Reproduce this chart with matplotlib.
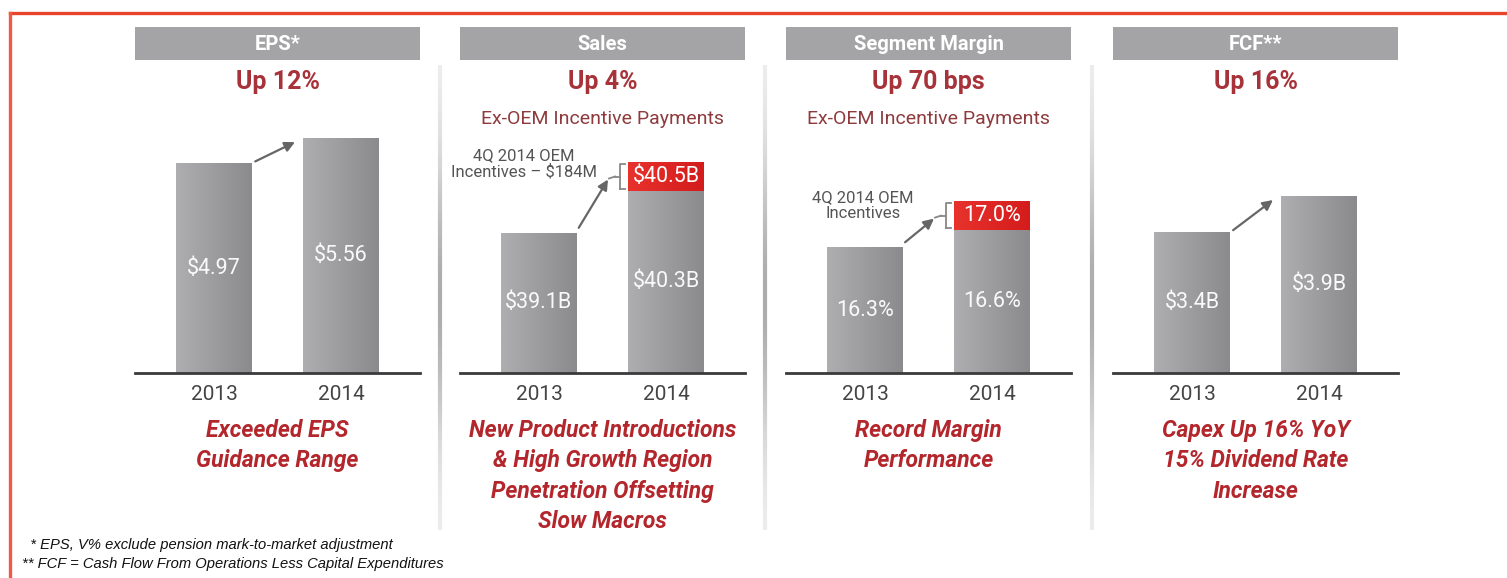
import numpy as np
import matplotlib
matplotlib.use('Agg')
import matplotlib.pyplot as plt
from matplotlib.patches import Rectangle
from matplotlib.lines import Line2D
from matplotlib.collections import LineCollection
from matplotlib.colors import LinearSegmentedColormap

# ---------------- data ----------------
years = ['2013', '2014']
panel_titles = ['EPS*', 'Sales', 'Segment Margin', 'FCF**']
panel_growth = ['Up 12%', 'Up 4%', 'Up 70 bps', 'Up 16%']
panel_subtitles = ['', 'Ex-OEM Incentive Payments', 'Ex-OEM Incentive Payments', '']
eps_values = [4.97, 5.56]
sales_values = [39.1, 40.3]
margin_values = [16.3, 16.6]
fcf_values = [3.4, 3.9]
value_labels = [['$4.97', '$5.56'], ['$39.1B', '$40.3B'], ['16.3%', '16.6%'], ['$3.4B', '$3.9B']]
oem_labels = [None, '$40.5B', '17.0%', None]
oem_notes = [None, '4Q 2014 OEM\nIncentives \u2013 $184M', '4Q 2014 OEM\nIncentives', None]
captions = ['Exceeded EPS\nGuidance Range',
            'New Product Introductions\n& High Growth Region\nPenetration Offsetting\nSlow Macros',
            'Record Margin\nPerformance',
            'Capex Up 16% YoY\n15% Dividend Rate\nIncrease']
footnotes = ['  * EPS, V% exclude pension mark-to-market adjustment',
             '** FCF = Cash Flow From Operations Less Capital Expenditures']
series = [eps_values, sales_values, margin_values, fcf_values]

# ---------------- layout / style ----------------
W, H, DPI = 1507, 578, 100
fig = plt.figure(figsize=(W / DPI, H / DPI), dpi=DPI)
fig.patch.set_facecolor('white')

def fx(x):
    return x / W

def fy(y):
    return 1 - y / H

FONT = 'Roboto'
RED_TXT = '#a8323a'
CAP_RED = '#b3262c'
BOX_RED = '#e0231f'
panel_left = [135, 460, 786, 1113]
panel_w = 285
base_y = 373
ax_top = 100
y_low = [0.0, 35.1, 14.08, 1.442]
px_per_unit = [42.25, 35.0, 56.7, 72.0]
bar_off = 79
bar_step = 127
bar_w_px = 76
note_dx = [0, 96, 83, 0]
note_dy = [0, 13, 10, 0]

gray_cmap = LinearSegmentedColormap.from_list('g', ['#aeaeb0', '#8b8b8d'])
red_cmap = LinearSegmentedColormap.from_list('r', ['#e8322c', '#d41c1c'])
grad = np.linspace(0, 1, 64).reshape(1, -1)

# red frame
fig.add_artist(Line2D([fx(10), 1.0], [fy(13), fy(13)], color='#e8432c', lw=2.4,
                      transform=fig.transFigure))
fig.add_artist(Line2D([fx(10), fx(10)], [fy(13), 0.0], color='#ee5a44', lw=2.4,
                      transform=fig.transFigure))

# separators (vertical gradient lines)
for sx in [440, 765, 1092]:
    ys = np.linspace(65, 530, 120)
    segs = [[(fx(sx), fy(ys[i])), (fx(sx), fy(ys[i + 1]))] for i in range(len(ys) - 1)]
    t = np.linspace(0, 1, len(segs))
    shade = np.exp(-((t - 0.5) / 0.3) ** 2)
    cols = [(0.55, 0.55, 0.56, 0.12 + 0.6 * s) for s in shade]
    fig.add_artist(LineCollection(segs, colors=cols, linewidths=3.0,
                                  transform=fig.transFigure))

for i in range(4):
    L = panel_left[i]
    cx = L + panel_w / 2
    # header bar
    fig.add_artist(Rectangle((fx(L), fy(60)), fx(panel_w), 33 / H, facecolor='#a4a4a6',
                             edgecolor='none', transform=fig.transFigure))
    fig.text(fx(cx), fy(44), panel_titles[i], ha='center', va='center', color='white',
             fontsize=14.5, fontweight='bold', family=FONT)
    fig.text(fx(cx), fy(82), panel_growth[i], ha='center', va='center', color=RED_TXT,
             fontsize=18, fontweight='bold', family=FONT)
    if panel_subtitles[i]:
        fig.text(fx(cx), fy(119), panel_subtitles[i], ha='center', va='center',
                 color='#8e3b3e', fontsize=14, family=FONT)
    fig.text(fx(cx), fy(419), captions[i], ha='center', va='top', color=CAP_RED,
             fontsize=16.5, fontweight='bold', fontstyle='italic', family=FONT,
             linespacing=1.41)

    # axes
    ax = fig.add_axes([fx(L), fy(base_y), fx(panel_w), (base_y - ax_top) / H])
    ax.set_facecolor('none')
    vals = series[i]
    lo = y_low[i]
    hi = lo + (base_y - ax_top) / px_per_unit[i]
    bw = bar_w_px / bar_step
    bars = ax.bar([0, 1], vals, width=bw, color='#9c9c9e', zorder=2)
    for b in bars:
        x0 = b.get_x()
        im = ax.imshow(grad, extent=[x0, x0 + b.get_width(), lo, b.get_height()],
                       aspect='auto', cmap=gray_cmap, zorder=3)
        im.set_clip_path(b)
    ax.set_xlim(-bar_off / bar_step, (panel_w - bar_off) / bar_step)
    ax.set_ylim(lo, hi)
    for s in ['top', 'right', 'left']:
        ax.spines[s].set_visible(False)
    ax.spines['bottom'].set_color('#3a3a3a')
    ax.spines['bottom'].set_linewidth(2.0)
    ax.spines['bottom'].set_zorder(5)
    ax.set_yticks([])
    ax.set_xticks([0, 1])
    ax.set_xticklabels(years, family=FONT, fontsize=15, color='#444444')
    ax.tick_params(axis='x', length=0, pad=9)

    # value labels at mid-height of bars
    for j, v in enumerate(vals):
        ax.text(j, (lo + v) / 2, value_labels[i][j], ha='center', va='center',
                color='white', fontsize=15.5, family=FONT, zorder=6, alpha=0.95)

    # pixel geometry of bars
    tr = ax.transData
    b0, b1 = bars[0], bars[1]
    p0 = tr.transform((b0.get_x() + b0.get_width(), vals[0]))   # top-right of 2013
    p1 = tr.transform((b1.get_x(), vals[1]))                     # top-left of 2014

    arrow_kw = dict(arrowstyle='-|>,head_length=0.6,head_width=0.3', color='#666666',
                    lw=1.6, shrinkA=1, shrinkB=0)
    if oem_labels[i] is None:
        end = (p1[0] - 8, p1[1] - 4)
        start = (p0[0] + 2, p0[1] + 1)
        ax.annotate('', xy=end, xytext=start, xycoords='figure pixels',
                    textcoords='figure pixels', arrowprops=arrow_kw)
    else:
        box_px = 29
        dy = box_px * (hi - lo) / (base_y - ax_top)
        rect = Rectangle((b1.get_x(), vals[1]), b1.get_width(), dy, facecolor=BOX_RED,
                         edgecolor='none', zorder=4)
        ax.add_patch(rect)
        rim = ax.imshow(grad, extent=[b1.get_x(), b1.get_x() + b1.get_width(), vals[1], vals[1] + dy],
                        aspect='auto', cmap=red_cmap, zorder=4)
        rim.set_clip_path(rect)
        ax.set_xlim(-bar_off / bar_step, (panel_w - bar_off) / bar_step)
        ax.set_ylim(lo, hi)
        ax.text(1, vals[1] + dy / 2, oem_labels[i], ha='center', va='center', color='white',
                fontsize=15.5, family=FONT, zorder=6)
        # bracket
        bx = p1[0] - 8
        ytop = p1[1] + box_px - 2
        ybot = p1[1] + 2
        ymid = (ytop + ybot) / 2
        bk = dict(color='#888888', lw=1.3, transform=None)
        fig.add_artist(Line2D([bx + 5, bx, bx], [ytop, ytop, ybot], **bk))
        fig.add_artist(Line2D([bx, bx + 5], [ybot, ybot], **bk))
        fig.add_artist(Line2D([bx, bx - 5], [ymid, ymid], **bk))
        # arrow from 2013 bar to bracket
        end = (bx - 12, ymid - 3)
        start = (p0[0] + 1, p0[1] + 4)
        ax.annotate('', xy=end, xytext=start, xycoords='figure pixels',
                    textcoords='figure pixels', arrowprops=arrow_kw)
        fig.add_artist(Line2D([bx - 11, bx - 5], [ymid - 2, ymid], color='#888888', lw=1.3,
                              transform=None))
        # note text
        fig.text((bx - note_dx[i]) / W, (ymid + note_dy[i]) / H, oem_notes[i], ha='center',
                 va='center', color='#555555', fontsize=12, family=FONT, linespacing=1.05)

# footnotes
fig.text(fx(22), fy(545), footnotes[0], ha='left', va='center', fontsize=10.6,
         fontstyle='italic', family='Liberation Sans', color='#111111')
fig.text(fx(22), fy(564), footnotes[1], ha='left', va='center', fontsize=10.6,
         fontstyle='italic', family='Liberation Sans', color='#111111')

fig.savefig('out.png', dpi=DPI, facecolor='white')
